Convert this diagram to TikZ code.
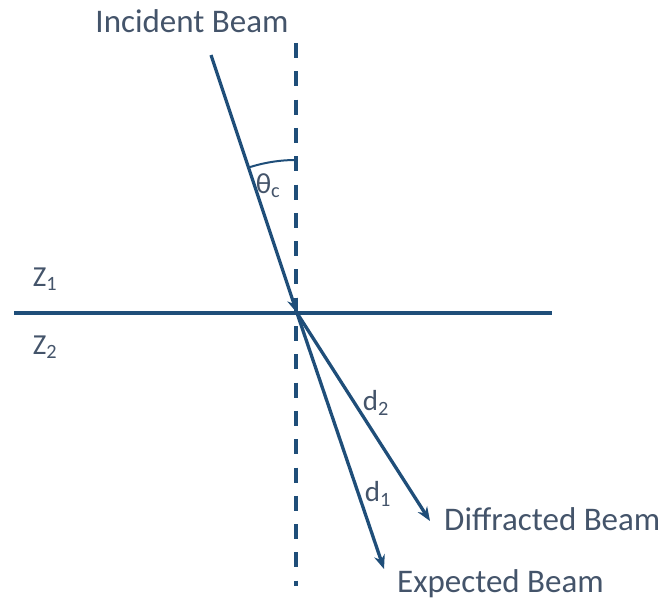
\documentclass[tikz,border=0pt]{standalone}
\usepackage{fontspec}
\setmainfont{Carlito}
\usetikzlibrary{arrows.meta}
\definecolor{beam}{HTML}{1F4E79}
\definecolor{txt}{HTML}{44546A}
\begin{document}
\begin{tikzpicture}[x=1pt,y=-1pt,
  ray/.style={draw=beam,line width=3.3pt,-{Stealth[length=14pt,width=11pt]}},
  lbl/.style={text=txt,font=\fontsize{33}{38}\selectfont,inner sep=0pt},
  sym/.style={text=txt,font=\fontsize{29}{34}\selectfont,inner sep=0pt}]
\useasboundingbox (0,0) rectangle (666,602);
\coordinate (O) at (297,313);
\coordinate (top) at (296,43);
\coordinate (bot) at (296,586);
\coordinate (L) at (14,313);
\coordinate (R) at (552,313);
\coordinate (inc) at (211,55);
\coordinate (dif) at (430,521);
\coordinate (exp) at (384,569);
\draw[beam,line width=3.3pt,dash pattern=on 15pt off 13.3pt] (top) -- (bot);
\draw[beam,line width=3.3pt] (L) -- (R);
\draw[ray] (inc) -- (O);
\draw[ray] (O) -- (dif);
\draw[ray] (O) -- (exp);
\draw[beam,line width=2pt] (296,160) arc[start angle=-90,end angle=-108.4,radius=153];
\node[sym] (theta) at (268,186) {θ\textsubscript{c}};
\node[sym] (d2) at (376,403) {d\textsubscript{2}};
\node[sym] (d1) at (378,494) {d\textsubscript{1}};
\node[sym] (z1) at (45,279) {Z\textsubscript{1}};
\node[sym] (z2) at (45,347) {Z\textsubscript{2}};
\node[lbl] (tinc) at (192,21) {Incident Beam};
\node[lbl,anchor=west] (tdif) at (444,519) {Diffracted Beam};
\node[lbl,anchor=west] (texp) at (397,584) {Expected Beam};
\end{tikzpicture}
\end{document}
